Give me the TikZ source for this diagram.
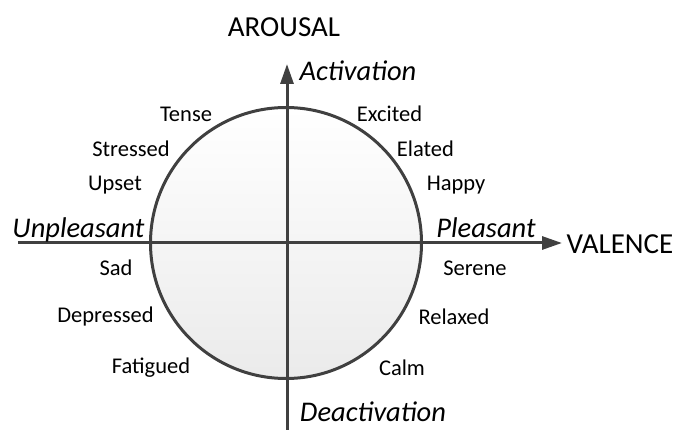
\documentclass[tikz,border=0pt]{standalone}
\usepackage{fontspec}
\setmainfont{Carlito}
\usetikzlibrary{arrows.meta}
\definecolor{axisgray}{HTML}{404040}
\begin{document}
\begin{tikzpicture}[x=1pt,y=-1pt,
  word/.style={font=\fontsize{22.5}{25}\selectfont, text=black, inner sep=0pt, anchor=center},
  big/.style={font=\fontsize{29}{32}\selectfont, text=black, inner sep=0pt, anchor=center},
  pole/.style={font=\fontsize{28.5}{31}\selectfont\itshape, text=black, inner sep=0pt},
  axis/.style={draw=axisgray, line width=3pt, -{Triangle[length=20pt,width=13pt]}},
  ring/.style={circle, draw=axisgray, line width=3pt, minimum size=271pt, inner sep=0pt,
    top color=white, bottom color=black!8}]
\useasboundingbox (0,0) rectangle (674,430);
\node[ring] (circ) at (286,243) {};
\coordinate (hstart) at (18,243);
\coordinate (hend) at (562,243);
\coordinate (vstart) at (287,432);
\coordinate (vend) at (287,64);
\draw[axis] (hstart) -- (hend);
\draw[axis] (vstart) -- (vend);
\node[big] (arousal) at (284,27) {AROUSAL};
\node[big] (valence) at (620,244) {VALENCE};
\node[pole, anchor=base] (act) at (358,81) {Activation};
\node[pole, anchor=base] (deact) at (373,421) {Deactivation};
\node[pole, anchor=base] (unpl) at (78.5,238) {Unpleasant};
\node[pole, anchor=base] (pl) at (486,238) {Pleasant};
\node[word] (tense) at (186,114) {Tense};
\node[word] (excited) at (389.5,114) {Excited};
\node[word] (stressed) at (131,149) {Stressed};
\node[word] (elated) at (425.5,149) {Elated};
\node[word] (upset) at (115,185) {Upset};
\node[word] (happy) at (456,185) {Happy};
\node[word] (sad) at (116,268) {Sad};
\node[word] (serene) at (475,268) {Serene};
\node[word] (depressed) at (105.5,317) {Depressed};
\node[word] (relaxed) at (454,317) {Relaxed};
\node[word] (fatigued) at (151,368) {Fatigued};
\node[word] (calm) at (402,368) {Calm};
\end{tikzpicture}
\end{document}
